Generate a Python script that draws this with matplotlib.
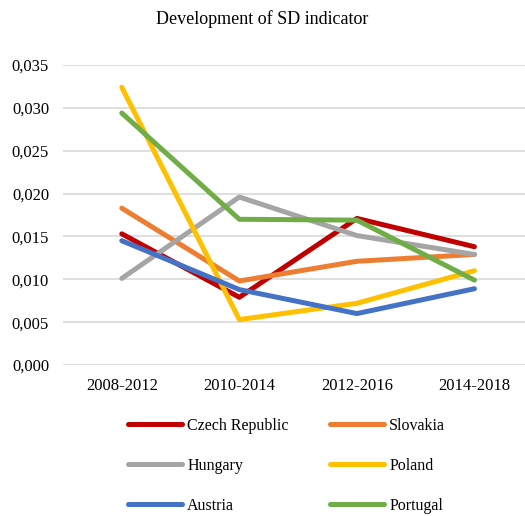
import matplotlib
matplotlib.use("Agg")
import matplotlib.pyplot as plt

periods = ["2008-2012", "2010-2014", "2012-2016", "2014-2018"]

czech    = [0.0153, 0.0079, 0.0171, 0.0138]
slovakia = [0.0183, 0.0098, 0.0121, 0.0129]
hungary  = [0.0101, 0.0196, 0.0151, 0.0129]
poland   = [0.0324, 0.0053, 0.0072, 0.0110]
austria  = [0.0145, 0.0088, 0.0060, 0.0089]
portugal = [0.0294, 0.0170, 0.0169, 0.0099]

series = [
    ("Czech Republic", czech,    "#C00000"),
    ("Slovakia",       slovakia, "#ED7D31"),
    ("Hungary",        hungary,  "#A5A5A5"),
    ("Poland",         poland,   "#FFC000"),
    ("Austria",        austria,  "#4472C4"),
    ("Portugal",       portugal, "#70AD47"),
]

plt.rcParams["font.family"] = ["Liberation Serif", "DejaVu Serif"]

W, H = 525, 516
fig = plt.figure(figsize=(W / 100, H / 100), dpi=100)
ax = fig.add_axes([63 / W, 1 - 365 / H, (525 - 63) / W, 300 / H])

x = range(len(periods))
lines = []
for name, vals, col in series:
    ln, = ax.plot(x, vals, color=col, lw=3.6, label=name,
                  solid_capstyle="round", solid_joinstyle="round")
    lines.append(ln)

ax.set_xlim(-0.5, 3.43)
ax.set_ylim(0, 0.035)
ax.set_yticks([0.005 * i for i in range(8)])
ax.set_yticklabels([f"{0.005 * i:.3f}".replace(".", ",") for i in range(8)],
                   fontsize=12)
ax.set_xticks(list(x))
ax.set_xticklabels(periods, fontsize=12)
ax.tick_params(length=0, pad=9)
ax.tick_params(axis="y", pad=10)
ax.grid(axis="y", color="#D9D9D9", lw=1.2)
ax.set_axisbelow(True)
for s in ax.spines.values():
    s.set_visible(False)

fig.text(0.5, 1 - 19 / H, "Development of SD indicator", ha="center",
         va="center", fontsize=13)

# legend reads row by row: reorder for matplotlib's column filling
order = [0, 2, 4, 1, 3, 5]
fig.legend([lines[i] for i in order], [series[i][0] for i in order],
           loc="upper left", bbox_to_anchor=(128 / W, 1 - 418 / H),
           ncol=2, frameon=False, fontsize=11.5, handlelength=3.4,
           handletextpad=0.3, columnspacing=2.6, labelspacing=1.5,
           borderpad=0, borderaxespad=0)

fig.savefig("out.png", dpi=100)
